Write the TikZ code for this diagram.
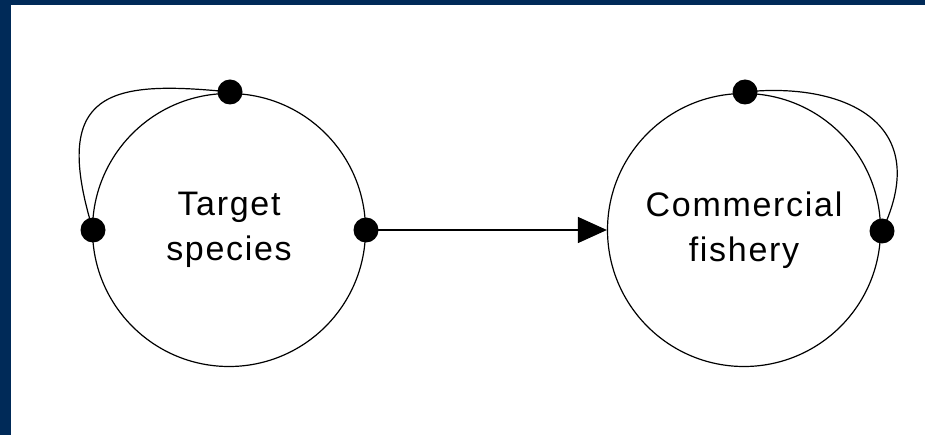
\documentclass[tikz,border=0pt]{standalone}
\usepackage{fontspec}
\setmainfont{Liberation Sans}
\newfontfamily\spacedsans[LetterSpace=5]{Liberation Sans}
\usetikzlibrary{arrows.meta}
\definecolor{frameblue}{RGB}{0,42,88}
\begin{document}
\begin{tikzpicture}[x=1pt,y=-1pt,
  conn/.style={draw=black,line width=1.2pt},
  bubble/.style={circle,draw=black,line width=1.2pt,minimum size=273pt,inner sep=0pt,align=center,
     font=\spacedsans\fontsize{34}{45}\selectfont},
  dotnode/.style={circle,fill=black,minimum size=25pt,inner sep=0pt}]
\fill[frameblue] (0,0) rectangle (925,435);
\fill[white] (11,5) rectangle (925,435);
\useasboundingbox (0,0) rectangle (925,435);
\node[bubble] (ts) at (229,230) {Target\\species};
\node[bubble] (cf) at (744,230) {Commercial\\fishery};
\coordinate (ltopc) at (230,92);
\coordinate (lleftc) at (93,230);
\coordinate (lrightc) at (366,230);
\coordinate (rtopc) at (745,92);
\coordinate (rrightc) at (882,231);
% loops
\draw[conn] (ltopc) .. controls (110,80) and (50,90) .. (lleftc);
\draw[conn] (rtopc) .. controls (840,82) and (935,120) .. (rrightc);
% arrow
\draw[conn,-{Triangle[length=29pt,width=26pt]}] (lrightc) -- (cf.west);
% dots
\node[dotnode] (ltop) at (ltopc) {};
\node[dotnode] (lleft) at (lleftc) {};
\node[dotnode] (lright) at (lrightc) {};
\node[dotnode] (rtop) at (rtopc) {};
\node[dotnode] (rright) at (rrightc) {};
\end{tikzpicture}
\end{document}
